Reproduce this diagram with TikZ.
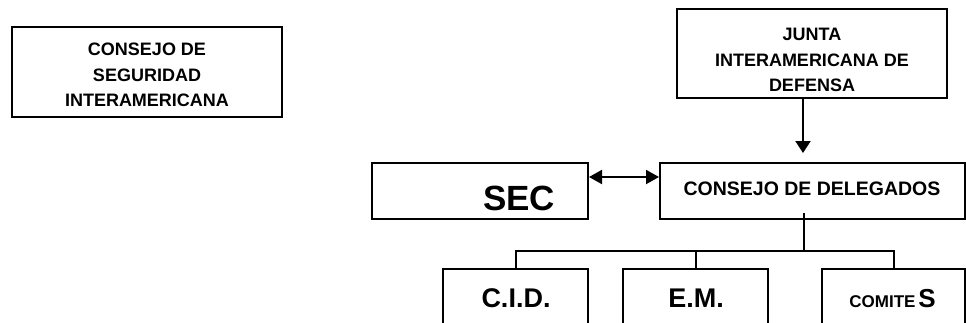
\documentclass[tikz,border=0pt]{standalone}
\usepackage{fontspec}
\setmainfont{Liberation Sans}
\usetikzlibrary{arrows.meta}
\begin{document}
\begin{tikzpicture}[x=1bp,y=-1bp,
  box/.style={draw=black, line width=2bp, inner sep=0pt},
  txt/.style={inner sep=0pt, align=center, font=\bfseries},
  conn/.style={draw=black, line width=2bp},
  arr/.style={conn, -{Triangle[length=12bp,width=15bp]}},
  arrboth/.style={conn, {Triangle[length=13bp,width=14bp]}-{Triangle[length=13bp,width=14bp]}}
]
\useasboundingbox (0,0) rectangle (966,322);
\clip (0,0) rectangle (966,322);
% boxes
\node[box, minimum width=270bp, minimum height=90bp] (CSI) at (147,72) {};
\node[box, minimum width=270bp, minimum height=89bp] (JUNTA) at (812,53.5) {};
\node[box, minimum width=216bp, minimum height=56bp] (SEC) at (480,191) {};
\node[box, minimum width=305bp, minimum height=56bp] (CDD) at (812.5,191) {};
\node[box, minimum width=145bp, minimum height=56bp] (CID) at (515.5,297) {};
\node[box, minimum width=145bp, minimum height=56bp] (EM) at (695.5,297) {};
\node[box, minimum width=143bp, minimum height=56bp] (COM) at (893.5,297) {};
% texts
\node[txt, font=\bfseries\fontsize{18bp}{25.5bp}\selectfont] (CSIt) at (147,75) {CONSEJO DE\\SEGURIDAD\\INTERAMERICANA};
\node[txt, font=\bfseries\fontsize{18bp}{25.5bp}\selectfont] (JUNTAt) at (812,60) {JUNTA\\INTERAMERICANA DE\\DEFENSA};
\node[txt, anchor=base, font=\bfseries\fontsize{35bp}{40bp}\selectfont] (SECt) at (519,210) {SEC};
\node[txt, anchor=base, font=\bfseries\fontsize{19.5bp}{22bp}\selectfont] (CDDt) at (812,195) {CONSEJO DE DELEGADOS};
\node[txt, anchor=base, font=\bfseries\fontsize{27bp}{30bp}\selectfont] (CIDt) at (516,307) {C.I.D.};
\node[txt, anchor=base, font=\bfseries\fontsize{27bp}{30bp}\selectfont] (EMt) at (696,307) {E.M.};
\node[txt, anchor=base] (COMt) at (892.5,307) {\fontsize{17bp}{20bp}\selectfont COMITE\,\fontsize{26bp}{30bp}\selectfont S};
% connectors
\coordinate (jtip) at (803,153);
\draw[arr] (JUNTA.south -| jtip) -- (jtip);
\draw[arrboth] ([yshift=-15bp]SEC.north east) -- ([yshift=-15bp]CDD.north west);
\coordinate (bus) at (804,251);
\draw[conn] ([yshift=7bp]CDD.south -| bus) -- (bus);
\draw[conn] (CID.north) -- (CID.north |- bus) -| (COM.north);
\draw[conn] (EM.north) -- (EM.north |- bus);
\end{tikzpicture}
\end{document}
